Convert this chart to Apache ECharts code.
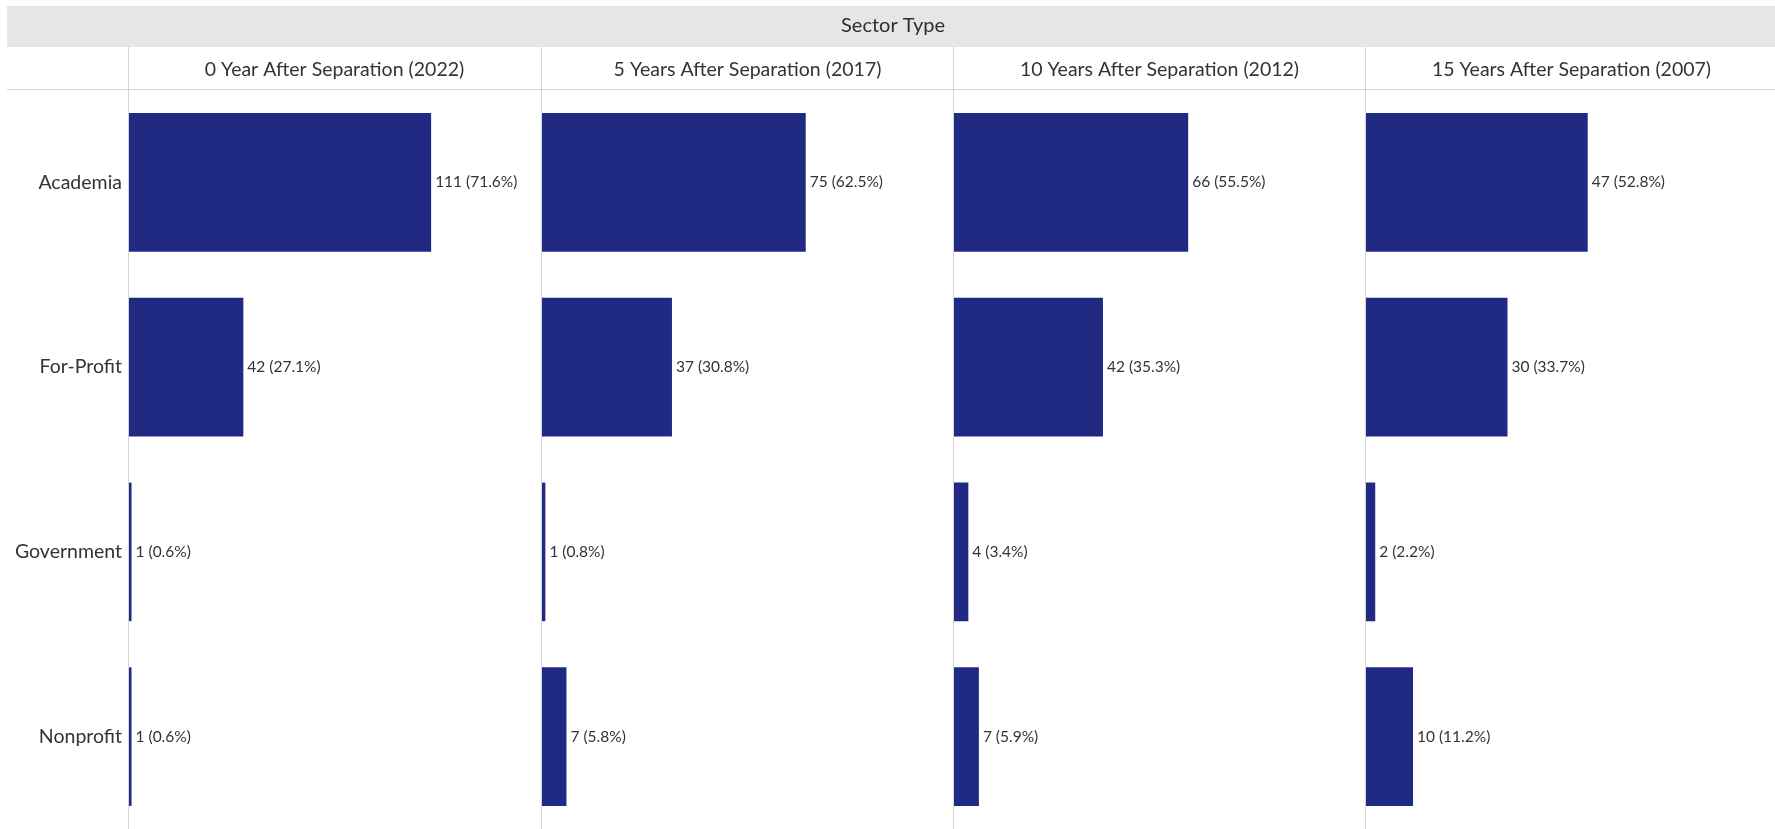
<!DOCTYPE html>
<html>
<head>
<meta charset="utf-8">
<script src="https://cdn.jsdelivr.net/npm/echarts@6/dist/echarts.min.js"></script>
<style>
  html, body { margin: 0; padding: 0; background: #fff; }
  #chart { width: 1775px; height: 829px; }
</style>
</head>
<body>
<div id="chart"></div>
<script>
const sectors = ['Academia', 'For-Profit', 'Government', 'Nonprofit']
const periods = [
  '0 Year After Separation (2022)',
  '5 Years After Separation (2017)',
  '10 Years After Separation (2012)',
  '15 Years After Separation (2007)'
]
const counts2022 = [111, 42, 1, 1]
const pct2022 = [71.6, 27.1, 0.6, 0.6]
const counts2017 = [75, 37, 1, 7]
const pct2017 = [62.5, 30.8, 0.8, 5.8]
const counts2012 = [66, 42, 4, 7]
const pct2012 = [55.5, 35.3, 3.4, 5.9]
const counts2007 = [47, 30, 2, 10]
const pct2007 = [52.8, 33.7, 2.2, 11.2]

const counts = [counts2022, counts2017, counts2012, counts2007]
const pcts = [pct2022, pct2017, pct2012, pct2007]

const barColor = '#212a83'
const lineColor = '#d4d4d4'
const textColor = '#333333'
const font = 'Lato'

const panelLeft = [129, 542, 954, 1366]
const panelWidth = 411
const gridTop = 90
const gridHeight = 742

const chart = echarts.init(document.getElementById('chart'))

const grids = panelLeft.map(l => ({ left: l, top: gridTop, width: panelWidth, height: gridHeight }))

const xAxes = panelLeft.map((l, i) => ({
  type: 'value',
  gridIndex: i,
  min: 0,
  max: 97.4,
  show: false
}))

const yAxes = panelLeft.map((l, i) => ({
  type: 'category',
  gridIndex: i,
  data: sectors,
  inverse: true,
  axisLine: { show: false },
  axisTick: { show: false },
  axisLabel: {
    show: i === 0,
    margin: 7,
    fontFamily: font,
    fontSize: 19.5,
    color: textColor
  }
}))

const series = pcts.map((p, i) => ({
  type: 'bar',
  xAxisIndex: i,
  yAxisIndex: i,
  data: p,
  barCategoryGap: '25%',
  itemStyle: { color: barColor },
  silent: true,
  label: {
    show: true,
    position: 'right',
    distance: 4,
    fontFamily: font,
    fontSize: 15.5,
    color: textColor,
    formatter: (d) => counts[i][d.dataIndex] + ' (' + p[d.dataIndex].toFixed(1) + '%)'
  }
}))

const graphics = [
  { type: 'rect', shape: { x: 7, y: 6, width: 1768, height: 41 }, style: { fill: '#e6e6e6' }, z: -1 },
  { type: 'text', x: 893, y: 26, style: { text: 'Sector Type', font: '20px Lato', fill: '#2e2e2e', textAlign: 'center', textVerticalAlign: 'middle' } },
  { type: 'line', shape: { x1: 7, y1: 89.5, x2: 1775, y2: 89.5 }, style: { stroke: lineColor, lineWidth: 1 } }
]
panelLeft.forEach((l, i) => {
  graphics.push({ type: 'line', shape: { x1: l - 0.5, y1: 47, x2: l - 0.5, y2: 829 }, style: { stroke: lineColor, lineWidth: 1 }, z: -1 })
  graphics.push({
    type: 'text', x: l + panelWidth / 2, y: 70,
    style: { text: periods[i], font: '19.5px Lato', fill: textColor, textAlign: 'center', textVerticalAlign: 'middle' }
  })
})

chart.setOption({
  animation: false,
  grid: grids,
  xAxis: xAxes,
  yAxis: yAxes,
  series: series,
  graphic: graphics
})
</script>
</body>
</html>
